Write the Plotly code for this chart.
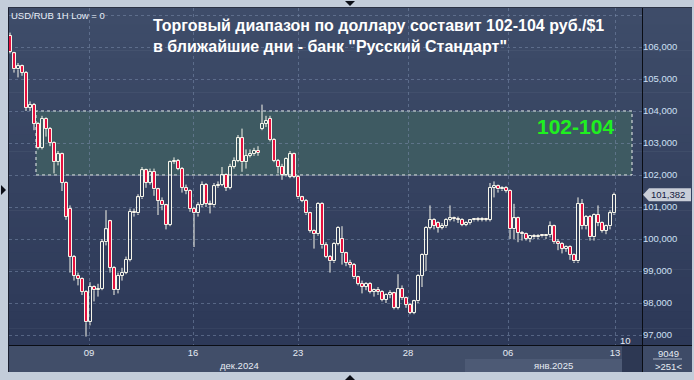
import plotly.graph_objects as go

# ---------------- data (hourly candles) ----------------
opens = [106.35, 105.80, 105.30, 105.40, 105.20, 104.10, 104.20, 103.60, 102.85, 103.75,
         103.45, 103.00, 102.40, 102.65, 101.75, 100.95, 99.45, 98.85, 98.75, 98.35,
         97.40, 98.50, 98.40, 98.45, 99.90, 100.55, 99.10, 98.40, 98.85, 98.95,
         99.35, 100.85, 100.80, 101.30, 102.15, 101.75, 102.10, 101.55, 101.20, 101.05,
         100.45, 102.40, 102.45, 102.20, 101.60, 101.50, 100.95, 100.80, 101.05, 101.70,
         101.10, 101.05, 101.65, 101.70, 102.00, 101.60, 102.25, 102.45, 103.15, 102.40,
         102.60, 102.65, 102.75, 103.45, 103.60, 103.75, 103.10, 102.45, 102.25, 102.00,
         101.95, 102.65, 101.95, 101.30, 101.20, 100.80, 100.25, 100.15, 101.10, 99.80,
         99.45, 99.30, 99.85, 100.00, 99.55, 99.25, 99.20, 98.80, 98.60, 98.50,
         98.60, 98.35, 98.40, 98.35, 98.10, 98.25, 98.30, 97.85, 98.45, 98.15,
         97.95, 97.70, 98.05, 98.85, 99.50, 100.35, 100.60, 100.50, 100.35, 100.40,
         100.60, 100.65, 100.62, 100.60, 100.45, 100.50, 100.58, 100.62, 100.60, 100.62,
         100.60, 101.60, 101.65, 101.55, 101.60, 101.50, 100.30, 100.65, 100.20, 100.15,
         100.00, 100.10, 100.05, 100.10, 100.08, 100.12, 100.40, 99.90, 99.85, 99.70,
         99.75, 99.50, 99.30, 101.10, 100.40, 100.70, 100.05, 100.75, 100.50, 100.25,
         100.40, 100.80]
highs = [106.45, 105.85, 105.50, 105.45, 105.25, 104.30, 104.25, 103.65, 103.85, 103.80,
         103.50, 103.05, 102.75, 102.70, 101.80, 101.05, 99.50, 98.95, 98.80, 98.40,
         98.65, 98.55, 98.60, 100.00, 100.90, 100.60, 99.15, 98.95, 99.10, 99.45,
         100.95, 100.95, 101.40, 102.25, 102.20, 102.20, 102.20, 101.60, 101.30, 101.10,
         102.45, 102.55, 102.50, 102.25, 101.70, 101.55, 101.00, 101.15, 101.80, 101.75,
         101.20, 101.75, 101.80, 102.25, 102.05, 102.35, 102.55, 103.25, 103.45, 102.80,
         102.80, 102.85, 102.90, 104.20, 103.85, 103.85, 103.15, 102.50, 102.35, 102.55,
         102.75, 102.70, 102.00, 101.35, 101.25, 100.85, 100.30, 101.15, 101.15, 99.90,
         99.50, 99.90, 100.40, 100.40, 99.60, 99.35, 99.25, 98.85, 98.70, 98.65,
         98.65, 98.45, 98.50, 98.40, 98.30, 98.40, 98.35, 98.90, 98.55, 98.20,
         98.00, 98.10, 98.90, 99.55, 100.40, 101.05, 100.65, 100.55, 100.50, 100.65,
         101.05, 100.70, 100.70, 100.65, 100.55, 100.60, 100.65, 100.68, 100.68, 100.66,
         101.75, 101.80, 101.70, 101.65, 101.65, 101.55, 101.10, 100.70, 100.25, 100.20,
         100.10, 100.15, 100.15, 100.15, 100.15, 100.55, 100.45, 100.00, 99.90, 99.80,
         99.80, 99.55, 101.30, 101.25, 100.75, 100.75, 100.80, 101.05, 100.55, 100.45,
         100.90, 101.45]
lows = [105.80, 105.20, 105.05, 105.10, 104.00, 104.00, 103.40, 102.80, 102.80, 103.20,
        102.90, 102.05, 102.30, 101.50, 100.60, 98.95, 98.70, 98.55, 98.25, 96.95,
        97.30, 98.05, 98.20, 98.40, 99.80, 98.95, 98.25, 98.30, 98.70, 98.90,
        99.30, 100.70, 100.75, 101.25, 101.60, 101.70, 101.35, 100.75, 100.90, 100.30,
        100.40, 102.35, 102.15, 101.45, 101.40, 100.85, 99.75, 100.70, 101.00, 101.00,
        100.80, 101.00, 101.60, 101.65, 101.50, 101.55, 102.20, 102.40, 102.10, 102.20,
        102.55, 102.60, 102.60, 103.40, 103.50, 103.05, 102.40, 102.05, 101.85, 101.95,
        101.90, 101.90, 101.25, 101.15, 100.75, 100.20, 99.70, 100.10, 99.70, 99.40,
        98.95, 99.25, 99.80, 99.20, 99.15, 99.10, 98.75, 98.55, 98.30, 98.40,
        98.30, 98.20, 98.25, 98.05, 98.00, 98.15, 97.80, 97.80, 98.10, 97.85,
        97.65, 97.65, 98.00, 98.50, 99.00, 100.30, 100.30, 100.20, 100.30, 100.35,
        100.55, 100.55, 100.50, 100.40, 100.40, 100.45, 100.55, 100.55, 100.55, 100.55,
        100.55, 101.30, 101.45, 101.50, 101.45, 100.00, 100.00, 99.90, 99.95, 99.95,
        99.90, 100.00, 100.00, 100.05, 100.00, 100.05, 99.85, 99.65, 99.55, 99.60,
        99.35, 99.25, 99.25, 100.30, 100.30, 99.95, 99.95, 100.40, 100.20, 100.15,
        100.30, 100.75]
closes = [105.85, 105.30, 105.40, 105.20, 104.10, 104.20, 103.60, 102.85, 103.75, 103.45,
          103.00, 102.40, 102.65, 101.75, 100.70, 99.45, 98.85, 98.75, 98.35, 97.40,
          98.50, 98.40, 98.45, 99.90, 100.30, 99.10, 98.40, 98.85, 98.95, 99.35,
          100.85, 100.80, 101.30, 102.15, 101.75, 102.10, 101.55, 101.20, 101.05, 100.45,
          102.40, 102.45, 102.20, 101.60, 101.50, 100.95, 100.80, 101.05, 101.70, 101.10,
          101.05, 101.65, 101.70, 102.00, 101.60, 102.25, 102.45, 103.15, 102.40, 102.60,
          102.65, 102.75, 102.70, 103.60, 103.70, 103.10, 102.45, 102.25, 102.00, 102.50,
          102.65, 101.95, 101.30, 101.20, 100.80, 100.25, 100.15, 101.10, 99.80, 99.45,
          99.30, 99.85, 100.35, 99.55, 99.25, 99.20, 98.80, 98.60, 98.50, 98.60,
          98.35, 98.40, 98.35, 98.10, 98.25, 98.30, 97.85, 98.45, 98.15, 97.95,
          97.70, 98.05, 98.85, 99.50, 100.35, 100.60, 100.40, 100.35, 100.40, 100.60,
          100.65, 100.62, 100.60, 100.45, 100.50, 100.58, 100.62, 100.60, 100.62, 100.60,
          101.60, 101.65, 101.55, 101.60, 101.50, 100.30, 100.65, 100.20, 100.15, 100.00,
          100.10, 100.05, 100.10, 100.08, 100.12, 100.40, 99.90, 99.85, 99.70, 99.75,
          99.50, 99.30, 101.10, 100.40, 100.70, 100.05, 100.75, 100.50, 100.25, 100.40,
          100.80, 101.38]

day_positions = [19.75, 45.75, 72, 99.5, 124.5, 151.25]
day_labels = ["09", "16", "23", "28", "06", "13"]
month_labels = ["дек.2024", "янв.2025"]
price_ticks = [97, 98, 99, 100, 101, 102, 103, 104, 105, 106, 107]
range_low, range_high = 102, 104
range_from, range_to = 6.5, 155.5
last_price = 101.382
title_lines = ["Торговый диапазон по доллару составит 102-104 руб./$1",
               "в ближайшие дни - банк \"Русский Стандарт\""]

# ---------------- layout geometry (pixels) ----------------
W, H = 694, 380
PL, PR, PT, PB = 9, 642, 8, 345


def fx(p):
    return (p - PL) / (PR - PL)


def fy(p):
    return (PB - p) / (PB - PT)


FONT = "Liberation Sans, Arial, sans-serif"
EDGE = "#f6f6ea"
RED = "#e5103f"
GRID = "rgba(120,138,170,0.55)"
TXT = "#e6ebf3"

xs = list(range(len(closes)))
body_lo = [min(o, c) for o, c in zip(opens, closes)]
body_hi = [max(o, c) for o, c in zip(opens, closes)]
body_h = [max(h - l, 0.03) for h, l in zip(body_hi, body_lo)]
body_fill = [RED if c < o else "rgba(0,0,0,0)" for o, c in zip(opens, closes)]

wx, wy = [], []
for x, hi, lo, bh, bl in zip(xs, highs, lows, body_hi, body_lo):
    wx += [x, x, None, x, x, None]
    wy += [hi, bh, None, bl, lo, None]

fig = go.Figure()
fig.add_trace(go.Scatter(x=wx, y=wy, mode="lines", line=dict(color=EDGE, width=1),
                         hoverinfo="skip", showlegend=False))
fig.add_trace(go.Bar(x=xs, y=body_h, base=body_lo, width=0.75,
                     marker=dict(color=body_fill, line=dict(color=EDGE, width=1)),
                     hoverinfo="skip", showlegend=False))

shapes = []
N = 40
c0, c1 = (62, 76, 105), (45, 57, 88)
for k in range(N):
    t = k / (N - 1)
    col = "rgb(%d,%d,%d)" % tuple(round(a + (b - a) * t) for a, b in zip(c0, c1))
    y0 = PT + (PB - PT) * k / N
    y1 = PT + (PB - PT) * (k + 1) / N + 0.6
    shapes.append(dict(type="rect", xref="paper", yref="paper", layer="below",
                       x0=fx(8), x1=fx(692), y0=fy(y0), y1=fy(min(y1, PB)),
                       fillcolor=col, line=dict(width=0)))
shapes += [
    dict(type="rect", xref="paper", yref="paper", layer="below",
         x0=fx(8), x1=fx(692), y0=fy(372), y1=fy(PB), fillcolor="#414e69", line=dict(width=0)),
    dict(type="rect", xref="paper", yref="paper", layer="below",
         x0=fx(465), x1=fx(622), y0=fy(372), y1=fy(359), fillcolor="#4d5a75", line=dict(width=0)),
    dict(type="rect", xref="paper", yref="paper", layer="below",
         x0=fx(622), x1=fx(642), y0=fy(372), y1=fy(346), fillcolor="#2d3853", line=dict(width=0)),
    dict(type="rect", xref="paper", yref="paper", layer="below",
         x0=fx(643), x1=fx(692), y0=fy(372), y1=fy(346), fillcolor="#3e4b67", line=dict(width=0)),
]
shapes += [
    dict(type="line", xref="paper", yref="paper", layer="above",
         x0=fx(642.5), x1=fx(642.5), y0=fy(8), y1=fy(372), line=dict(color="#0a0d14", width=1)),
    dict(type="line", xref="paper", yref="paper", layer="above",
         x0=fx(8), x1=fx(692), y0=fy(345.5), y1=fy(345.5), line=dict(color="#0a0d14", width=1)),
    dict(type="line", xref="paper", yref="paper", layer="above",
         x0=fx(8.5), x1=fx(8.5), y0=fy(8), y1=fy(372), line=dict(color="#1b2030", width=1)),
    dict(type="line", xref="paper", yref="paper", layer="above",
         x0=fx(8), x1=fx(692), y0=fy(7.5), y1=fy(7.5), line=dict(color="#2b3244", width=1)),
    dict(type="line", xref="paper", yref="paper", layer="above",
         x0=fx(653), x1=fx(682), y0=fy(359), y1=fy(359), line=dict(color="#aab6c8", width=1)),
]


def tri(pts, color="#0b0e16"):
    path = "M " + " L ".join("%f,%f" % (fx(a), fy(b)) for a, b in pts) + " Z"
    return dict(type="path", xref="paper", yref="paper", layer="above", path=path,
                fillcolor=color, line=dict(width=0))


shapes += [tri([(345, 1), (355, 1), (350, 6)]),
           tri([(345, 380), (355, 380), (350, 375)]),
           tri([(1, 185), (1, 195), (6, 190)])]

ty = 175 - (last_price - 102) * 32
shapes.append(tri([(643, ty), (649, ty - 6.5), (691, ty - 6.5), (691, ty + 6.5), (649, ty + 6.5)],
                  color="#c9ced8"))

shapes.append(dict(type="rect", xref="x", yref="y", layer="below",
                   x0=range_from, x1=range_to, y0=range_low, y1=range_high,
                   fillcolor="#3e5a62", line=dict(color="#eef2f0", width=1, dash="dot")))

ann = []
ann.append(dict(xref="paper", yref="paper", x=fx(151), y=fy(36), xanchor="left", yanchor="middle",
                align="left", showarrow=False,
                text="<b>" + "<br>".join(title_lines) + "</b>",
                font=dict(family=FONT, size=16, color="#ffffff")))
ann.append(dict(xref="paper", yref="paper", x=fx(9), y=fy(15), xanchor="left", yanchor="middle",
                showarrow=False, text="USD/RUB 1H Low = 0",
                font=dict(family=FONT, size=9.5, color="#e8eef8")))
ann.append(dict(xref="x", yref="y", x=range_to - 4, y=(range_low + range_high) / 2 + 0.52,
                xanchor="right", yanchor="middle", showarrow=False,
                text="<b>%d-%d</b>" % (range_low, range_high),
                font=dict(family=FONT, size=21, color="#1ff01f")))
ann.append(dict(xref="paper", yref="y", x=fx(668), y=last_price, xanchor="center", yanchor="middle",
                showarrow=False, text=("%.3f" % last_price).replace(".", ","),
                font=dict(family=FONT, size=9.5, color="#142040")))
ann.append(dict(xref="paper", yref="paper", x=fx(239), y=fy(365), xanchor="center", yanchor="middle",
                showarrow=False, text=month_labels[0], font=dict(family=FONT, size=9.5, color=TXT)))
ann.append(dict(xref="paper", yref="paper", x=fx(553), y=fy(365), xanchor="center", yanchor="middle",
                showarrow=False, text=month_labels[1], font=dict(family=FONT, size=9.5, color=TXT)))
ann.append(dict(xref="paper", yref="paper", x=fx(625), y=fy(340), xanchor="center", yanchor="middle",
                showarrow=False, text="10", font=dict(family=FONT, size=9.5, color=TXT)))
ann.append(dict(xref="paper", yref="paper", x=fx(668), y=fy(353), xanchor="center", yanchor="middle",
                showarrow=False, text="9049", font=dict(family=FONT, size=9.5, color=TXT)))
ann.append(dict(xref="paper", yref="paper", x=fx(668), y=fy(366), xanchor="center", yanchor="middle",
                showarrow=False, text="&gt;251&lt;", font=dict(family=FONT, size=9.5, color=TXT)))

fig.update_layout(
    width=W, height=H,
    margin=dict(l=PL, r=W - PR, t=PT, b=H - PB, pad=0),
    paper_bgcolor="#c3cdda", plot_bgcolor="rgba(0,0,0,0)",
    shapes=shapes, annotations=ann, showlegend=False, bargap=0,
    xaxis=dict(range=[-0.25, 158], tickvals=day_positions, ticktext=day_labels, ticks="",
               showline=False, zeroline=False, showgrid=True, gridcolor=GRID,
               griddash="3px,3px", gridwidth=1,
               tickfont=dict(family=FONT, size=9.5, color=TXT)),
    yaxis=dict(range=[96.6875, 107.219], side="right", tickvals=price_ticks,
               ticktext=[("%.3f" % v).replace(".", ",") if v < 107 else "" for v in price_ticks],
               ticks="", showline=False, zeroline=False, showgrid=True,
               gridcolor=GRID, griddash="3px,3px", gridwidth=1,
               tickfont=dict(family=FONT, size=9.5, color="#cfe0f5")),
)

fig.write_html("out.html")
